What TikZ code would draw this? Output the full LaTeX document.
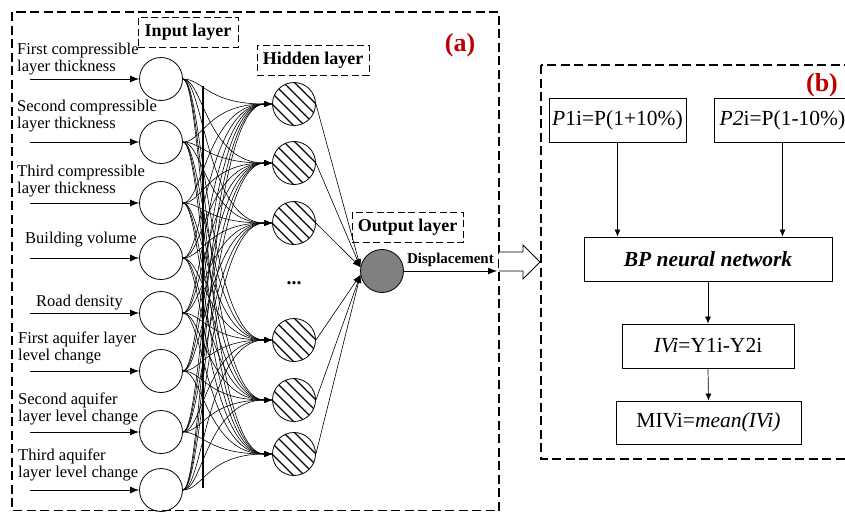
\documentclass[tikz,border=0pt]{standalone}
\usepackage{fontspec}
\setmainfont{Liberation Serif}
\usetikzlibrary{arrows.meta}
\definecolor{labelred}{HTML}{C00000}
\definecolor{outgrey}{HTML}{808080}

\begin{document}
\begin{tikzpicture}[x=1pt,y=-1pt,
  neuron/.style={circle,draw,line width=0.8pt,minimum size=43pt,inner sep=0pt},
  hid/.style={neuron,path picture={
      \begin{scope}[shift={(path picture bounding box.center)}]
        \foreach \k in {-3,...,3}
          \draw[line width=1.1pt] ({\k*11-30},-30) -- ({\k*11+30},30);
      \end{scope}}},
  outn/.style={neuron,fill=outgrey},
  conn/.style={line width=0.6pt,-{Latex[length=8pt,width=6pt]}},
  feed/.style={line width=0.9pt,-{Latex[length=9pt,width=7pt]}},
  flow/.style={line width=0.7pt,-{Latex[length=7pt,width=6pt]}},
  region/.style={draw,line width=1.1pt,dash pattern=on 9pt off 4.5pt},
  layerlbl/.style={draw,line width=1pt,dash pattern=on 7pt off 3.5pt,
      font=\fontsize{18}{20}\selectfont\bfseries,inner sep=0pt,minimum height=30pt},
  inlbl/.style={font=\fontsize{16.5}{17}\selectfont,align=left,anchor=south west,inner sep=0pt},
  stepbox/.style={draw,line width=0.8pt,font=\fontsize{21.5}{24}\selectfont,
      inner sep=0pt,minimum height=44pt},
  tag/.style={font=\fontsize{26}{28}\selectfont\bfseries,text=labelred}
]
\clip (0,0) rectangle (845,512);

% ---------------- panel (a): the BP network ----------------
\draw[region] (12,12) rectangle (499,510.5);
\node[tag] (taga) at (460,45) {(a)};

\node[layerlbl,minimum width=100pt] (lin) at (188,32) {Input layer};
\node[layerlbl,minimum width=112pt] (lhid) at (313,60) {Hidden layer};
\node[layerlbl,minimum width=111pt] (lout) at (407.5,227) {Output layer};

% input neurons and their feeding arrows
\foreach \i/\y in {1/79,2/142,3/203,4/258,5/313,6/371,7/432,8/490}{
  \node[neuron] (in\i) at (161,\y) {};
  \coordinate (s\i) at (30,\y);
  \draw[feed] (s\i) -- (in\i.west);
}

% input descriptions
\node[inlbl] (t1) at (17,75.6)  {First compressible\\layer thickness};
\node[inlbl] (t2) at (17,132)   {Second compressible\\layer thickness};
\node[inlbl] (t3) at (17,197)   {Third compressible\\layer thickness};
\node[inlbl] (t4) at (25,247.6) {Building volume};
\node[inlbl] (t5) at (36,310)   {Road density};
\node[inlbl] (t6) at (18,364.6) {First aquifer layer\\level change};
\node[inlbl] (t7) at (18,425.6) {Second aquifer\\layer level change};
\node[inlbl] (t8) at (18,481.6) {Third aquifer\\layer level change};

% hidden neurons
\foreach \j/\y in {1/104,2/163,3/223,4/340,5/400,6/454}
  \node[hid] (h\j) at (294,\y) {};
\node[font=\fontsize{20}{20}\selectfont\bfseries] (dots) at (294,283) {...};

% output neuron
\node[outn] (o) at (382,271) {};

% full connection input -> hidden
\foreach \i in {1,...,8}
  \foreach \j in {1,...,6}
    \draw[conn] (in\i.east) .. controls +(20,0) and +(-65,0) .. (h\j.west);
\coordinate (vtop) at (203,86);
\coordinate (vbot) at (203,488);
\draw[line width=1.3pt] (vtop) -- (vbot);

% hidden -> output
\foreach \j in {1,2,3}
  \draw[conn] (h\j.east) -- (o.170);
\foreach \j in {4,5,6}
  \draw[conn] (h\j.east) -- (o.190);

% network output
\coordinate (dispend) at (497,271);
\draw[feed,line width=0.8pt] (o.east) -- (dispend)
  node[midway,above=1pt,font=\fontsize{15}{16}\selectfont\bfseries] (disp) {Displacement};

% hollow arrow from (a) to (b)
\fill[white] (499,252) -- (523,252) -- (523,245) -- (540,262) -- (523,279) -- (523,271) -- (499,271) -- cycle;
\draw[line width=0.8pt] (499,252) -- (523,252) -- (523,245) -- (540,262) -- (523,279) -- (523,271) -- (499,271);

% ---------------- panel (b): MIV procedure ----------------
\draw[region] (541,65) rectangle (870,459);
\node[tag] (tagb) at (822,85) {(b)};

\node[stepbox,minimum width=137pt] (p1) at (617.5,120) {\textit{P}1i=P(1+10\%)};
\node[stepbox,minimum width=137pt] (p2) at (782.5,120) {\textit{P2}i=P(1-10\%)};
\node[stepbox,minimum width=248pt] (bp) at (708,259) {\textbf{\textit{BP neural network}}};
\node[stepbox,minimum width=172pt] (iv) at (708,346) {\textit{IVi}=Y1i-Y2i};
\node[stepbox,minimum width=185pt,minimum height=43pt] (miv) at (708.5,422.5) {MIVi=\textit{mean(IVi)}};

\draw[flow] (p1.south) -- (p1.south |- bp.north);
\draw[flow] (p2.south) -- (p2.south |- bp.north);
\draw[flow] (bp.south) -- (iv.north);
\draw[flow] (iv.south) -- (miv.north);
\end{tikzpicture}
\end{document}
